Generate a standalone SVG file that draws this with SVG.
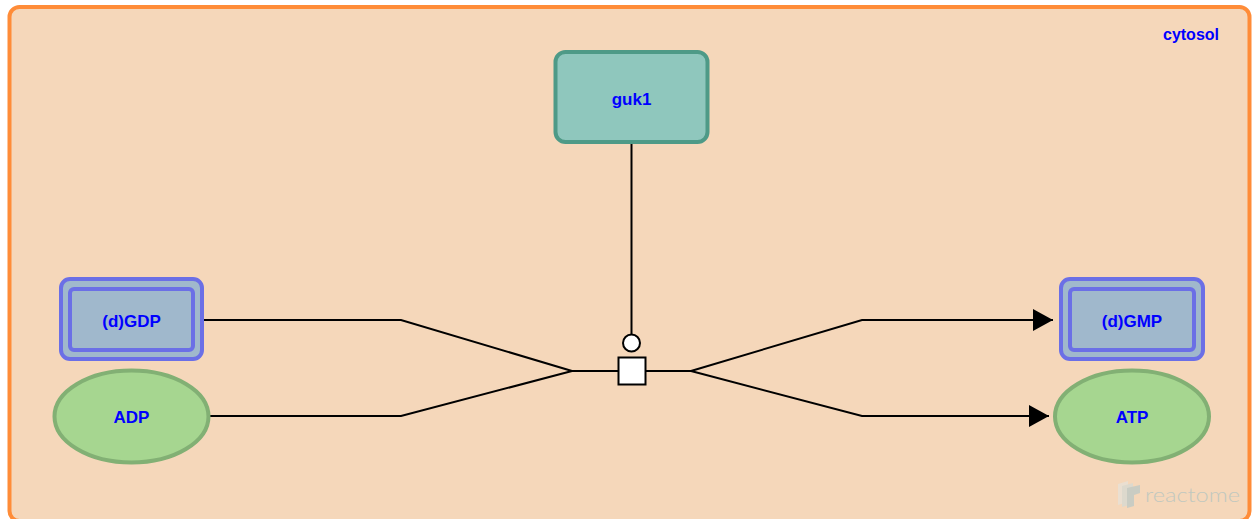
<svg xmlns="http://www.w3.org/2000/svg" width="1255" height="519" viewBox="0 0 1255 519">
<style>
.lbl{font-family:"Liberation Sans",Arial,sans-serif;font-weight:bold;font-size:17px;fill:#0000FF;text-anchor:middle}
.edge{fill:none;stroke:#000;stroke-width:2}
.cplx-o{fill:#A0B8CC;stroke:#6B6FE6;stroke-width:4}
.cplx-i{fill:none;stroke:#6B6FE6;stroke-width:4}
.chem{fill:#A6D690;stroke:#82B074;stroke-width:4}
</style>
<defs>
<marker id="arr" viewBox="0 0 20 22" refX="20" refY="11" markerWidth="20" markerHeight="22" markerUnits="userSpaceOnUse" orient="auto">
<path d="M0,0 L20,11 L0,22 Z" fill="#000"/>
</marker>
</defs>
<g id="cytosol">
<rect x="9.5" y="7" width="1240" height="514" rx="10" fill="#F5D7BA" stroke="#FF8C38" stroke-width="4"/>
<text x="1219" y="40" class="lbl" style="text-anchor:end;font-size:16px">cytosol</text>
</g>
<g id="connectors">
<polyline class="edge" points="204,320 401,320 572,371"/>
<polyline class="edge" points="209,416 401,416 572,371"/>
<line class="edge" x1="572" y1="371" x2="618" y2="371"/>
<line class="edge" x1="645" y1="371" x2="691" y2="371"/>
<polyline class="edge" points="691,371 862,320 1053,320" marker-end="url(#arr)"/>
<polyline class="edge" points="691,371 862,416 1049,416" marker-end="url(#arr)"/>
<line class="edge" x1="631.5" y1="144" x2="631.5" y2="335"/>
<circle cx="631.5" cy="343" r="8.5" fill="#fff" stroke="#000" stroke-width="2"/>
<rect x="618.5" y="357.5" width="27" height="27" fill="#fff" stroke="#000" stroke-width="2"/>
</g>
<g id="guk1">
<rect x="555.5" y="52" width="152" height="90" rx="10" fill="#8FC7BD" stroke="#4E9A87" stroke-width="4"/>
<text x="631.5" y="105" class="lbl">guk1</text>
</g>
<g id="dGDP">
<rect class="cplx-o" x="61" y="279" width="141" height="80" rx="9"/>
<rect class="cplx-i" x="70" y="289" width="123" height="61" rx="4"/>
<text x="131.5" y="327" class="lbl">(d)GDP</text>
</g>
<g id="ADP">
<ellipse class="chem" cx="131.5" cy="416.5" rx="77" ry="46"/>
<text x="131.5" y="423" class="lbl">ADP</text>
</g>
<g id="dGMP">
<rect class="cplx-o" x="1061" y="279" width="142" height="80" rx="9"/>
<rect class="cplx-i" x="1070" y="289" width="124" height="61" rx="4"/>
<text x="1132" y="327" class="lbl">(d)GMP</text>
</g>
<g id="ATP">
<ellipse class="chem" cx="1132" cy="416.5" rx="77" ry="46"/>
<text x="1132" y="423" class="lbl">ATP</text>
</g>
<g id="watermark" opacity="0.5">
<path d="M1118,484 L1128,481 L1128,502 L1118,505 Z" fill="#E0E8E8"/>
<path d="M1122,486 L1133,483 L1133,504 L1122,507 Z" fill="#C7DCE0"/>
<path d="M1127,488 L1140,485 L1140,493 L1134,495 L1134,506 L1127,508 Z" fill="#9EC3CC"/>
<text x="1145" y="502" font-family="Lato,'Open Sans',sans-serif" font-weight="300" font-size="20" fill="#8DBAC4" textLength="95" lengthAdjust="spacingAndGlyphs">reactome</text>
</g>
</svg>
